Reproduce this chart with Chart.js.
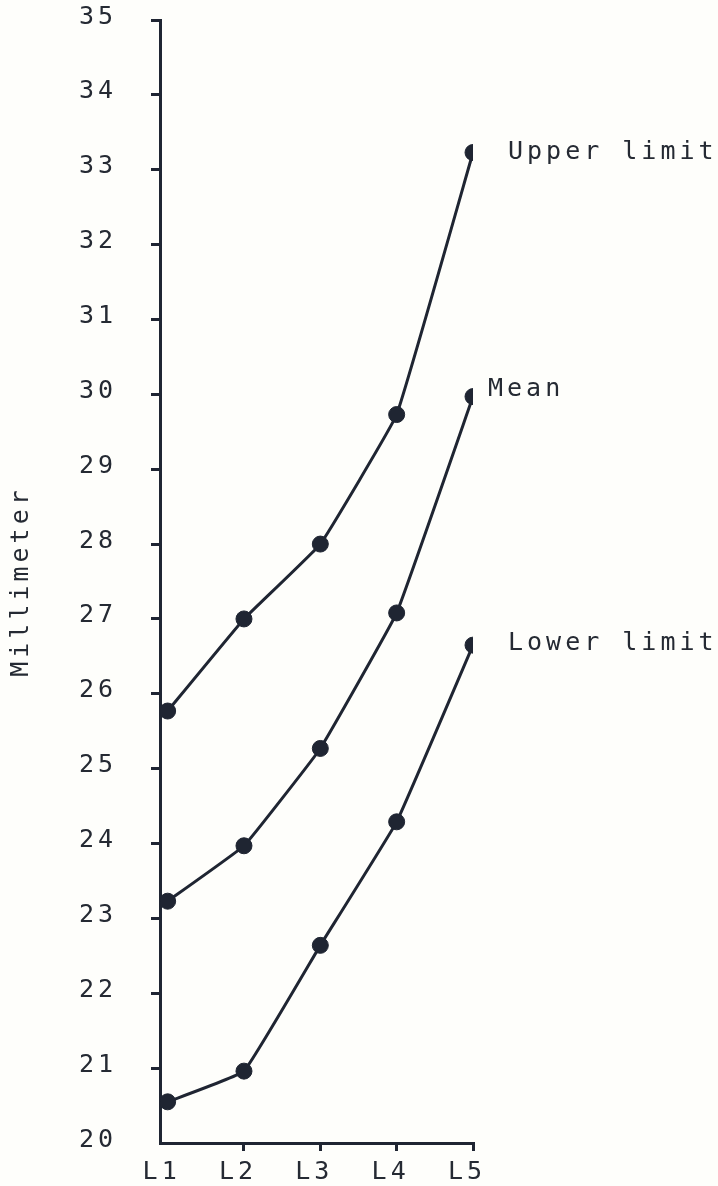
<!DOCTYPE html>
<html>
<head>
<meta charset="utf-8">
<script src="https://cdn.jsdelivr.net/npm/chart.js@4.4.1/dist/chart.umd.min.js"></script>
<style>
  html, body { margin: 0; padding: 0; background: #fefefb; }
  canvas { display: block; }
</style>
</head>
<body>
<canvas id="c" width="718" height="1186"></canvas>
<script>
// ---- data ----
const categories = ['L1', 'L2', 'L3', 'L4', 'L5'];
const upperLimit = [25.77, 27.0, 28.0, 29.73, 33.23];
const meanValues = [23.23, 23.97, 25.27, 27.08, 29.97];
const lowerLimit = [20.55, 20.96, 22.64, 24.29, 26.65];
const seriesNames = ['Upper limit', 'Mean', 'Lower limit'];
const yTitle = 'Millimeter';
const yMin = 20, yMax = 35;

// ---- styles ----
const INK = '#1f2532';
const TEXT = '#252a33';
const FONT = 'DejaVu Sans Mono';
const FSIZE = 25;
const LS = '4px';
const labelOffsets = [{dx: 35, dy: 0}, {dx: 15, dy: -7}, {dx: 35, dy: -2}];

function toPoints(arr) { return arr.map((v, i) => ({x: i + 1, y: v})); }

const ds = (label, arr) => ({
  label, data: toPoints(arr),
  borderColor: INK, backgroundColor: INK,
  borderWidth: 3, pointRadius: 8, pointHoverRadius: 8,
  pointBackgroundColor: INK, pointBorderColor: INK, pointBorderWidth: 1,
  tension: 0.08, fill: false
});

const spacingPlugin = {
  id: 'spacing',
  beforeUpdate(chart) { chart.ctx.letterSpacing = LS; },
  beforeDraw(chart) {
    const ctx = chart.ctx;
    ctx.letterSpacing = LS;
    ctx.save();
    ctx.fillStyle = '#fefefb';
    ctx.fillRect(0, 0, chart.width, chart.height);
    ctx.restore();
  }
};

const endLabels = {
  id: 'endLabels',
  afterDatasetsDraw(chart) {
    const ctx = chart.ctx;
    ctx.save();
    ctx.letterSpacing = LS;
    ctx.font = FSIZE + 'px "' + FONT + '"';
    ctx.fillStyle = TEXT;
    ctx.textAlign = 'left';
    ctx.textBaseline = 'middle';
    chart.data.datasets.forEach((d, i) => {
      const meta = chart.getDatasetMeta(i);
      const p = meta.data[meta.data.length - 1];
      const o = labelOffsets[i];
      ctx.fillText(d.label, p.x + o.dx, p.y + o.dy);
    });
    ctx.restore();
  }
};

new Chart(document.getElementById('c'), {
  type: 'line',
  data: {
    datasets: [
      ds(seriesNames[0], upperLimit),
      ds(seriesNames[1], meanValues),
      ds(seriesNames[2], lowerLimit)
    ]
  },
  options: {
    responsive: false,
    devicePixelRatio: 1,
    animation: false,
    layout: { padding: { left: 0, top: 20, right: 245, bottom: 0 } },
    plugins: { legend: { display: false }, tooltip: { enabled: false } },
    scales: {
      x: {
        type: 'linear',
        min: 0.9, max: 5,
        afterFit(s) { s.height = 43; s.paddingLeft = 0; s.paddingRight = 0; },
        ticks: {
          stepSize: 1, includeBounds: false, labelOffset: -6,
          color: TEXT, font: { family: FONT, size: FSIZE }, padding: 6,
          callback: v => categories[Math.round(v) - 1] || ''
        },
        grid: {
          drawOnChartArea: false, drawTicks: true, tickLength: 8, lineWidth: 3,
          color: c => (c.tick && c.tick.value === 1) ? 'rgba(0,0,0,0)' : INK
        },
        border: { display: true, color: INK, width: 3 }
      },
      y: {
        min: yMin, max: yMax,
        afterFit(s) { s.width = 160; s.paddingTop = 0; s.paddingBottom = 0; },
        ticks: {
          stepSize: 1, color: TEXT, font: { family: FONT, size: FSIZE }, padding: 34,
          labelOffset: -3
        },
        grid: {
          drawOnChartArea: false, drawTicks: true, tickLength: 9, lineWidth: 3,
          color: c => (c.tick && c.tick.value === yMin) ? 'rgba(0,0,0,0)' : INK
        },
        border: { display: true, color: INK, width: 3 },
        title: {
          display: true, text: yTitle, color: TEXT,
          font: { family: FONT, size: FSIZE }, padding: { top: 6, bottom: 0 }
        }
      }
    }
  },
  plugins: [spacingPlugin, endLabels]
});
</script>
</body>
</html>
